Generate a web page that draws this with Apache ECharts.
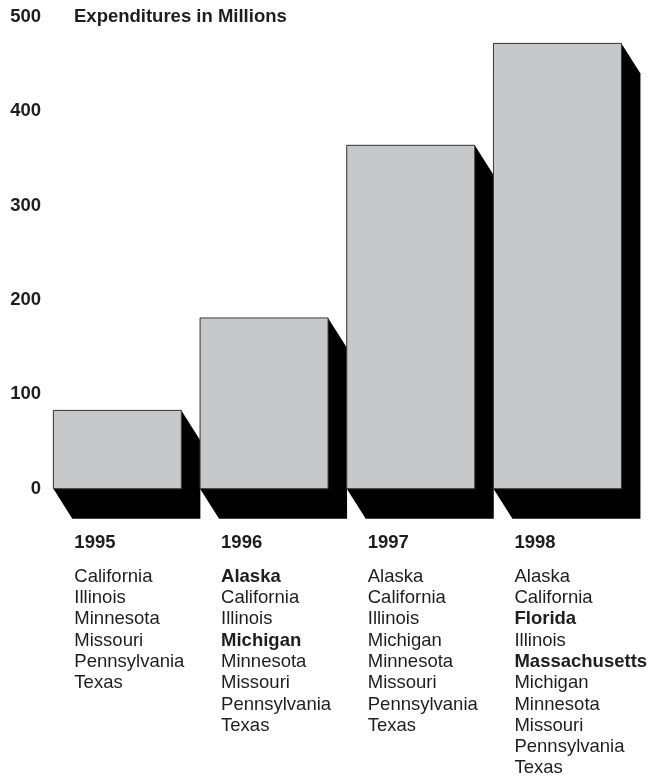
<!DOCTYPE html>
<html>
<head>
<meta charset="utf-8">
<script src="https://cdn.jsdelivr.net/npm/echarts@6/dist/echarts.min.js"></script>
<style>
  html, body { margin: 0; padding: 0; background: #ffffff; }
  #chart { width: 649px; height: 779px; }
</style>
</head>
<body>
<div id="chart"></div>
<script>
// ---- data ----
const years = ['1995', '1996', '1997', '1998'];
const expenditures = [83, 181, 364, 472];
const states1995 = ['California', 'Illinois', 'Minnesota', 'Missouri', 'Pennsylvania', 'Texas'];
const states1996 = ['Alaska', 'California', 'Illinois', 'Michigan', 'Minnesota', 'Missouri', 'Pennsylvania', 'Texas'];
const states1997 = ['Alaska', 'California', 'Illinois', 'Michigan', 'Minnesota', 'Missouri', 'Pennsylvania', 'Texas'];
const states1998 = ['Alaska', 'California', 'Florida', 'Illinois', 'Massachusetts', 'Michigan', 'Minnesota', 'Missouri', 'Pennsylvania', 'Texas'];
const newStates1996 = ['Alaska', 'Michigan'];
const newStates1998 = ['Florida', 'Massachusetts'];
const yMin = 0, yMax = 500, yStep = 100;
const titleText = 'Expenditures in Millions';

const stateLists = [states1995, states1996, states1997, states1998];
const boldLists = [[], newStates1996, [], newStates1998];

const FONT = '"Liberation Sans", Arial, Helvetica, sans-serif';
const TEXT = '#1e1e1e';
const FS = 18.5;

function labelFor(i) {
  let s = '{y|' + years[i] + '}';
  stateLists[i].forEach(function (st) {
    s += '\n' + (boldLists[i].indexOf(st) >= 0 ? '{b|' : '{s|') + st + '}';
  });
  return s;
}

const chart = echarts.init(document.getElementById('chart'), null, { renderer: 'canvas' });

const option = {
  backgroundColor: '#ffffff',
  animation: false,
  title: {
    text: titleText,
    left: 74,
    top: 7,
    padding: 0,
    textStyle: { fontFamily: FONT, fontSize: FS, fontWeight: 'bold', color: TEXT }
  },
  grid: { left: 44, right: 18.2, top: 17, bottom: 290.3, containLabel: false },
  xAxis: {
    type: 'category',
    data: years,
    axisLine: { show: false },
    axisTick: { show: false },
    axisLabel: { show: false },
    splitLine: { show: false }
  },
  yAxis: {
    type: 'value',
    min: yMin,
    max: yMax,
    interval: yStep,
    axisLine: { show: false },
    axisTick: { show: false },
    splitLine: { show: false },
    axisLabel: {
      margin: 3,
      fontFamily: FONT,
      fontSize: FS,
      fontWeight: 'bold',
      color: TEXT
    }
  },
  series: [{
    type: 'custom',
    data: expenditures.map(function (v, i) { return [i, v]; }),
    clip: false,
    renderItem: function (params, api) {
      const i = api.value(0);
      const top = api.coord([i, api.value(1)]);
      const base = api.coord([i, 0]);
      const band = api.size([1, 0])[0];
      const w = band * 0.8725;
      const x0 = top[0] - w / 2, x1 = top[0] + w / 2;
      const y0 = top[1], y1 = base[1];
      const dx = 19, dy = 30;
      return {
        type: 'group',
        children: [
          {
            type: 'polygon',
            shape: { points: [[x0, y0], [x1, y0], [x1 + dx, y0 + dy], [x1 + dx, y1 + dy], [x0 + dx, y1 + dy], [x0, y1]] },
            style: { fill: '#000000' }
          },
          {
            type: 'rect',
            shape: { x: x0, y: y0, width: w, height: y1 - y0 },
            style: { fill: '#c7c8ca', stroke: '#3a3a3a', lineWidth: 1 }
          },
          {
            type: 'text',
            x: top[0] - 43,
            y: y1 + 31.3,
            style: {
              text: labelFor(i),
              align: 'left',
              verticalAlign: 'top',
              fill: TEXT,
              rich: {
                y: { fontFamily: FONT, fontSize: FS, fontWeight: 'bold', lineHeight: 46, fill: TEXT },
                s: { fontFamily: FONT, fontSize: FS, fontWeight: 'normal', lineHeight: 21.3, fill: TEXT },
                b: { fontFamily: FONT, fontSize: FS, fontWeight: 'bold', lineHeight: 21.3, fill: TEXT }
              }
            }
          }
        ]
      };
    }
  }]
};

chart.setOption(option);
</script>
</body>
</html>
